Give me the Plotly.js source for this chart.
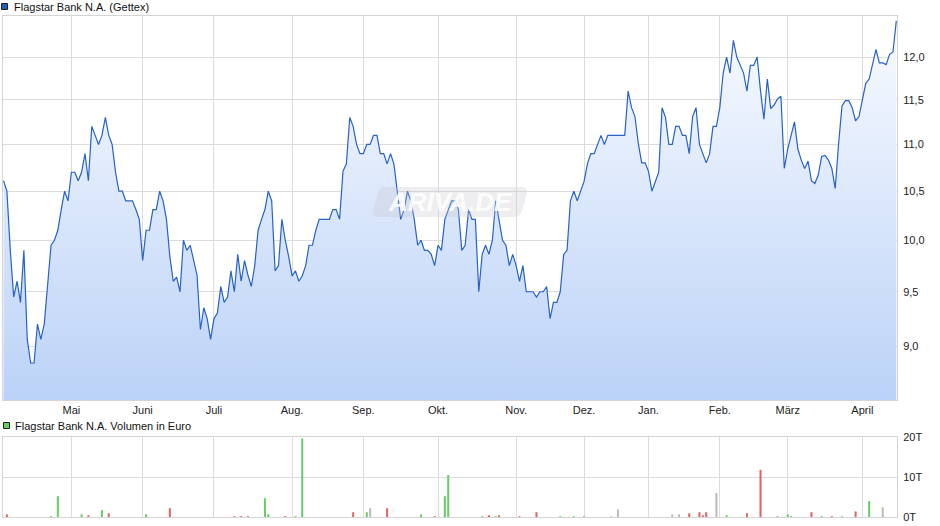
<!DOCTYPE html>
<html><head><meta charset="utf-8">
<script src="https://cdn.plot.ly/plotly-3.0.1.min.js"></script>
<style>html,body{margin:0;padding:0;background:#fff;}#chart{width:940px;height:526px;}</style>
</head><body><div id="chart"></div>
<script>
const priceTitle = 'Flagstar Bank N.A. (Gettex)';
const volumeTitle = 'Flagstar Bank N.A. Volumen in Euro';
const watermarkText = 'ARIVA.DE';
const monthLabels = ['Mai','Juni','Juli','Aug.','Sep.','Okt.','Nov.','Dez.','Jan.','Feb.','März','April'];
const monthStartDay = [20,41,62,85,106,128,151,171,190,211,231,253];
const priceTickValues = [9.0,9.5,10.0,10.5,11.0,11.5,12.0];
const priceTickLabels = ['9,0','9,5','10,0','10,5','11,0','11,5','12,0'];
const volumeTickValues = [0,10,20];
const volumeTickLabels = ['0T','10T','20T'];

// closing prices, one per trading day (EUR)
const prices = [
 10.61,10.50,9.90,9.45,9.60,9.40,9.90,9.06,8.85,8.85,
 9.20,9.06,9.20,9.55,9.95,10.00,10.10,10.31,10.50,10.40,
 10.70,10.70,10.61,10.70,10.90,10.61,11.20,11.10,11.00,11.10,
 11.30,11.10,11.00,10.70,10.50,10.50,10.40,10.40,10.40,10.31,
 10.21,9.80,10.10,10.10,10.31,10.31,10.50,10.40,10.21,9.84,
 9.60,9.64,9.50,10.00,9.90,9.95,9.81,9.66,9.15,9.35,
 9.25,9.06,9.25,9.30,9.55,9.40,9.45,9.70,9.50,9.86,
 9.60,9.80,9.66,9.55,9.75,10.10,10.21,10.31,10.50,10.40,
 9.70,9.75,10.21,10.00,9.84,9.65,9.70,9.60,9.65,9.75,
 9.95,9.95,10.10,10.21,
 10.21,10.21,10.21,10.31,10.31,10.21,10.71,10.79,11.30,11.20,
 11.00,10.90,10.90,11.00,11.00,11.10,11.10,10.90,10.90,10.79,
 10.90,10.79,10.50,10.21,10.31,10.50,10.40,10.21,9.95,10.00,
 9.90,9.90,9.86,9.75,9.95,9.90,10.21,10.31,10.40,10.40,
 10.31,9.90,9.95,10.31,10.21,10.21,9.50,9.86,9.95,9.86,
 10.00,10.40,10.21,10.00,9.95,9.75,9.86,9.75,9.60,9.75,
 9.50,9.50,9.50,9.45,9.50,9.50,9.55,9.25,9.40,9.40,
 9.50,9.86,9.90,10.40,10.50,10.40,10.50,10.60,10.79,10.90,
 10.90,11.00,11.10,11.00,11.10,11.10,11.10,11.10,
 11.10,11.10,11.60,11.41,11.31,11.01,10.80,10.80,10.71,10.50,
 10.60,10.70,11.41,11.30,11.00,11.00,11.20,11.20,11.10,11.10,
 10.90,11.31,11.41,11.00,10.90,10.80,10.90,11.20,11.20,11.41,
 11.81,12.00,11.81,12.20,12.00,11.91,11.81,11.60,11.90,11.90,
 12.00,11.60,11.28,11.74,11.40,11.44,11.51,11.54,10.74,10.95,
 11.10,11.25,10.95,10.83,10.74,10.82,10.61,10.58,10.67,10.87,
 10.88,10.83,10.74,10.53,11.01,11.43,11.49,11.49,11.41,11.26,
 11.31,11.48,11.69,11.74,11.91,12.09,11.93,11.93,11.91,12.03,
 12.06,12.44
];
const tradingDay = prices.map((p, i) => i);

// volume (thousand EUR) on trading days with turnover
const volumeDay = [1,14,16,23,25,29,31,42,49,68,70,72,77,78,83,86,88,103,107,108,113,123,127,130,131,141,143,145,146,152,157,164,168,171,179,181,197,199,202,205,206,207,210,213,219,223,228,231,232,238,241,244,247,251,255,259];
const volumeK = [0.67,0.2,5.2,0.67,0.42,1.7,0.92,0.67,2.2,0.2,0.2,0.2,4.7,0.67,0.2,0.2,19.6,1.2,1.2,2.2,2.2,0.67,0.2,5.2,10.5,0.2,0.42,0.2,0.42,0.2,1.2,0.2,0.2,0.2,0.2,1.9,0.67,0.67,0.92,1.2,0.42,1.2,6.0,0.42,0.92,11.8,0.2,0.67,0.2,1.2,0.2,0.2,0.2,1.4,3.95,2.45];
const volumeDir = ['d','u','u','u','d','u','d','u','d','d','d','d','u','u','d','u','u','d','u','f','d','u','d','u','u','u','d','u','d','d','d','u','u','u','f','f','f','f','d','d','d','d','f','u','d','d','u','u','u','d','u','d','u','d','u','f'];

const dirColor = {u:'#66cc66', d:'#dd6666', f:'#bbbbbb'};
const gridColor = '#dcdcdc';

// pixel helpers for paper-positioned decorations
const L = 3, R = 897, T = 16, B = 517;
const px = v => (v - L) / (R - L);
const py = v => (B - v) / (B - T);

const priceTrace = {
  x: tradingDay, y: prices, type: 'scatter', mode: 'lines',
  line: {color: '#2762c6', width: 1.2},
  fill: 'tozeroy',
  fillgradient: {type: 'vertical', start: 8.53, stop: 12.5,
    colorscale: [[0, 'rgb(187,210,247)'], [1, 'rgb(249,251,255)']]},
  hoverinfo: 'skip', xaxis: 'x', yaxis: 'y'
};
const volumeTrace = {
  x: volumeDay, y: volumeK, type: 'bar', width: 0.6,
  marker: {color: volumeDir.map(d => dirColor[d]), line: {width: 0}},
  hoverinfo: 'skip', xaxis: 'x2', yaxis: 'y2'
};

// slanted rounded watermark box (pixel corners -> paper)
const P = (x, y) => `${px(x)} ${py(y)}`;
const wmPath = 'M ' + P(384, 187) + ' L ' + P(521, 187) + ' Q ' + P(528, 187) + ' ' + P(527, 193) +
  ' L ' + P(522, 211) + ' Q ' + P(520, 217) + ' ' + P(514, 217) +
  ' L ' + P(378, 217) + ' Q ' + P(371, 217) + ' ' + P(373, 211) +
  ' L ' + P(378, 193) + ' Q ' + P(380, 187) + ' ' + P(384, 187) + ' Z';

const axisFont = {family: 'Liberation Sans, Arial, sans-serif', size: 11, color: '#222'};
const xr = [-0.15, 263.2];

const layout = {
  width: 940, height: 526,
  margin: {l: L, r: 940 - R, t: T, b: 526 - B},
  paper_bgcolor: '#ffffff', plot_bgcolor: '#ffffff',
  showlegend: false,
  separators: ',.',
  font: axisFont,
  xaxis: {anchor: 'y', range: xr, tickmode: 'array', tickvals: monthStartDay, ticktext: monthLabels,
    showgrid: true, gridcolor: gridColor, gridwidth: 1, zeroline: false,
    showline: true, mirror: true, linecolor: '#d4d4d4', linewidth: 1, ticks: '', tickfont: axisFont, fixedrange: true},
  yaxis: {domain: [py(400), 1], type: 'log', range: [Math.log10(8.53), Math.log10(12.5)], side: 'right',
    tickmode: 'array', tickvals: priceTickValues, ticktext: priceTickLabels,
    showgrid: true, gridcolor: gridColor, zeroline: false, showline: true, mirror: true,
    linecolor: '#d4d4d4', ticks: '', ticklabelstandoff: 3, tickfont: axisFont, fixedrange: true},
  xaxis2: {anchor: 'y2', range: xr, tickmode: 'array', tickvals: monthStartDay, showticklabels: false,
    showgrid: true, gridcolor: gridColor, zeroline: false, showline: true, mirror: true,
    linecolor: '#d4d4d4', ticks: '', fixedrange: true},
  yaxis2: {domain: [0, py(437)], range: [0, 20], side: 'right', tickmode: 'array',
    tickvals: volumeTickValues, ticktext: volumeTickLabels, showgrid: true, gridcolor: gridColor,
    zeroline: false, showline: true, mirror: true, linecolor: '#d4d4d4', ticks: '',
    ticklabelstandoff: 3, tickfont: axisFont, fixedrange: true},
  shapes: [
    {type: 'path', xref: 'paper', yref: 'paper', path: wmPath, fillcolor: 'rgba(200,200,205,0.3)', line: {width: 0}, layer: 'above'},
    {type: 'rect', xref: 'paper', yref: 'paper', x0: px(1.5), x1: px(7.5), y0: py(9.5), y1: py(3.5),
      fillcolor: '#1f5cc4', line: {color: '#222', width: 1}},
    {type: 'rect', xref: 'paper', yref: 'paper', x0: px(3.5), x1: px(9.5), y0: py(428.5), y1: py(422.5),
      fillcolor: '#66cc66', line: {color: '#222', width: 1}}
  ],
  annotations: [
    {xref: 'paper', yref: 'paper', x: px(12), y: py(6.5), xanchor: 'left', yanchor: 'middle',
      text: priceTitle, showarrow: false, font: {family: 'Liberation Sans, Arial, sans-serif', size: 11, color: '#111'}},
    {xref: 'paper', yref: 'paper', x: px(13), y: py(425.5), xanchor: 'left', yanchor: 'middle',
      text: volumeTitle, showarrow: false, font: {family: 'Liberation Sans, Arial, sans-serif', size: 11, color: '#111'}},
    {xref: 'paper', yref: 'paper', x: px(450), y: py(202), xanchor: 'center', yanchor: 'middle',
      text: '<b><i>' + watermarkText + '</i></b>', showarrow: false,
      font: {family: 'Liberation Sans, Arial, sans-serif', size: 26, color: 'rgba(255,255,255,0.9)'}}
  ]
};

Plotly.newPlot('chart', [priceTrace, volumeTrace], layout, {staticPlot: true, displayModeBar: false});
</script></body></html>
